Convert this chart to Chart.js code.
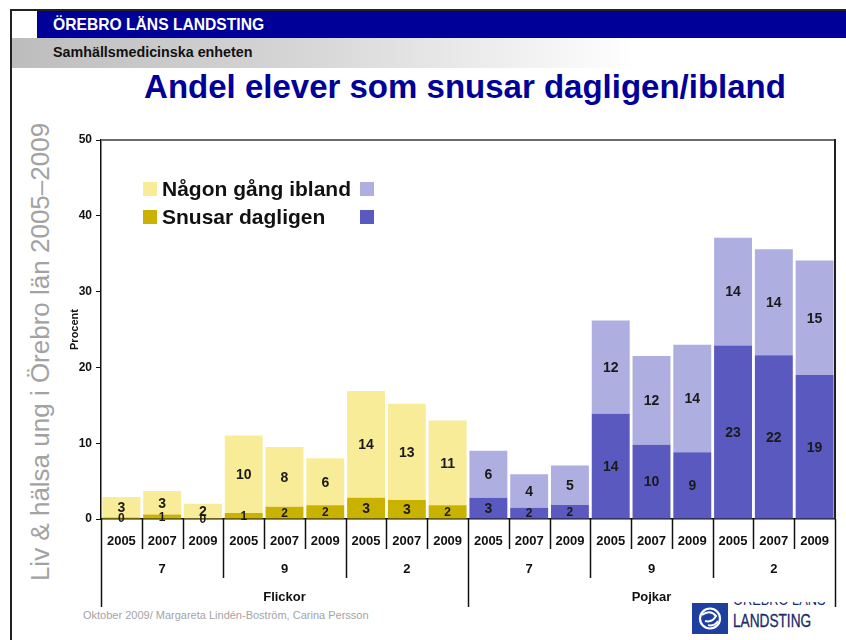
<!DOCTYPE html>
<html>
<head>
<meta charset="utf-8">
<script src="https://cdn.jsdelivr.net/npm/chart.js@4.4.1/dist/chart.umd.min.js"></script>
<style>
  html, body { margin: 0; padding: 0; background: #fff; }
  body { width: 846px; height: 640px; position: relative; overflow: hidden; font-family: Arial, "Liberation Sans", sans-serif; }
  #frameTop { position: absolute; left: 10px; top: 9px; width: 836px; height: 2px; background: #222; }
  #frameLeft { position: absolute; left: 10px; top: 9px; width: 2px; height: 631px; background: #222; }
  #blue { position: absolute; left: 37px; top: 11px; width: 809px; height: 27px; background: #000099; }
  #blue span { position: absolute; left: 16px; top: 4px; color: #fff; font-weight: bold; font-size: 17px;
               transform: scaleX(0.92); transform-origin: left center; white-space: nowrap; }
  #gray { position: absolute; left: 12px; top: 38px; width: 834px; height: 30px;
          background: linear-gradient(to right, #bdbdbd 0%, #d6d6d6 35%, #ffffff 75%); }
  #gray span { position: absolute; left: 41px; top: 6px; color: #111; font-weight: bold; font-size: 14.3px; white-space: nowrap; }
  #title { position: absolute; left: 0; width: 930px; top: 68px; text-align: center; color: #000099;
           font-weight: bold; font-size: 33px; }
  #side { position: absolute; left: 40px; top: 352px; transform: translate(-50%, -50%) rotate(-90deg);
          white-space: nowrap; color: #a2a2a2; font-size: 26px; }
  #foot { position: absolute; left: 83px; top: 609px; color: #a4a4a4; font-size: 11px; }
  #logo { position: absolute; left: 692px; top: 601px; width: 150px; height: 36px; }
  #logo .sq { position: absolute; left: 0; top: 2px; width: 36px; height: 31px; background: #1f3f9f; }
  #logo .cut { position: absolute; left: 41px; top: 1px; height: 5px; overflow: hidden; width: 100px; }
  #logo .cut span { position: relative; top: -11px; font-size: 16px; color: #1a2a6a; white-space: nowrap;
                    display: inline-block; transform: scaleX(0.8); transform-origin: left center; }
  #logo .land { position: absolute; left: 41px; top: 10px; font-size: 17.5px; color: #1a2a6a; white-space: nowrap;
                transform: scaleX(0.78); transform-origin: left center; -webkit-text-stroke: 0.3px #1a2a6a; }
  #chart { position: absolute; left: 0; top: 0; }
</style>
</head>
<body>
<div id="frameTop"></div>
<div id="frameLeft"></div>
<div id="blue"><span>ÖREBRO LÄNS LANDSTING</span></div>
<div id="gray"><span>Samhällsmedicinska enheten</span></div>
<div id="title">Andel elever som snusar dagligen/ibland</div>
<div id="side">Liv &amp; hälsa ung i Örebro län 2005–2009</div>
<div id="foot">Oktober 2009/ Margareta Lindén-Boström, Carina Persson</div>
<div id="logo">
  <div class="sq">
    <svg width="36" height="31" viewBox="0 0 36 31">
      <circle cx="18" cy="15.5" r="10" fill="none" stroke="#fff" stroke-width="2.2"/>
      <path d="M10 12 Q18 6 24 13 Q20 20 13 18" fill="none" stroke="#fff" stroke-width="2"/>
      <path d="M16 22 Q22 24 26 18" fill="none" stroke="#fff" stroke-width="1.8"/>
    </svg>
  </div>
  <div class="cut"><span>ÖREBRO LÄNS</span></div>
  <div class="land">LANDSTING</div>
</div>
<canvas id="chart" width="846" height="640"></canvas>
<script>
// data
const years = ['2005', '2007', '2009', '2005', '2007', '2009', '2005', '2007', '2009',
               '2005', '2007', '2009', '2005', '2007', '2009', '2005', '2007', '2009'];
const grades = ['7', '9', '2', '7', '9', '2'];
const genders = ['Flickor', 'Pojkar'];
const daily = [0.2, 0.6, 0.1, 0.8, 1.6, 1.8, 2.8, 2.5, 1.8,
               2.8, 1.5, 1.85, 13.9, 9.8, 8.8, 22.9, 21.6, 19.0];
const ibland = [2.7, 3.1, 1.9, 10.2, 7.9, 6.2, 14.1, 12.7, 11.2,
                6.2, 4.4, 5.2, 12.3, 11.7, 14.2, 14.2, 14.0, 15.1];
const yTicks = [0, 10, 20, 30, 40, 50];
const seriesNames = ['Snusar dagligen', 'Någon gång ibland'];

const girlDark = '#c9b300', girlLight = '#f8ec98';
const boyDark = '#5a59c0', boyLight = '#afaee1';
const isGirl = i => i < 9;

const FONT = 'Arial, "Liberation Sans", sans-serif';

// value labels inside each segment
const segmentLabels = {
  id: 'segmentLabels',
  afterDatasetsDraw(chart) {
    const ctx = chart.ctx;
    ctx.save();
    ctx.fillStyle = '#1a1a1a';
    ctx.textAlign = 'center';
    ctx.textBaseline = 'middle';
    chart.data.datasets.forEach((ds, di) => {
      chart.getDatasetMeta(di).data.forEach((el, i) => {
        const h = Math.abs(el.base - el.y);
        ctx.font = 'bold ' + (h < 14 ? 12 : 14) + 'px ' + FONT;
        ctx.fillText(String(Math.round(ds.data[i])), el.x, (el.y + el.base) / 2 + 1);
      });
    });
    ctx.restore();
  }
};

// frame, multi-level category axis, legend, axis title
const decorations = {
  id: 'decorations',
  afterDraw(chart) {
    const ctx = chart.ctx;
    const a = chart.chartArea;
    const x = chart.scales.x;
    const n = years.length;
    const half = (x.getPixelForValue(1) - x.getPixelForValue(0)) / 2;
    const edge = i => i === 0 ? a.left : (i === n ? a.right : x.getPixelForValue(i) - half);
    ctx.save();

    // top and right frame
    ctx.strokeStyle = '#6a6a6a';
    ctx.lineWidth = 2;
    ctx.beginPath();
    ctx.moveTo(a.left, a.top); ctx.lineTo(a.right, a.top);
    ctx.stroke();
    ctx.strokeStyle = '#222';
    ctx.beginPath();
    ctx.moveTo(a.right, a.top - 1); ctx.lineTo(a.right, a.bottom);
    ctx.stroke();

    // dividers
    ctx.strokeStyle = '#111';
    ctx.lineWidth = 1.5;
    for (let i = 0; i <= n; i++) {
      let len = 30;
      if (i % 3 === 0) len = 59;
      if (i % 9 === 0) len = 88;
      const px = Math.round(edge(i)) + 0.5;
      ctx.beginPath();
      ctx.moveTo(px, a.bottom);
      ctx.lineTo(px, a.bottom + len);
      ctx.stroke();
    }

    // labels
    ctx.fillStyle = '#111';
    ctx.textAlign = 'center';
    ctx.textBaseline = 'middle';
    ctx.font = 'bold 13px ' + FONT;
    years.forEach((y, i) => ctx.fillText(y, x.getPixelForValue(i), a.bottom + 22));
    grades.forEach((g, k) => ctx.fillText(g, (edge(k * 3) + edge(k * 3 + 3)) / 2, a.bottom + 50));
    genders.forEach((g, k) => ctx.fillText(g, (edge(k * 9) + edge(k * 9 + 9)) / 2, a.bottom + 78));

    // axis title
    ctx.save();
    ctx.translate(75, (a.top + a.bottom) / 2);
    ctx.rotate(-Math.PI / 2);
    ctx.font = 'bold 11px ' + FONT;
    ctx.fillText('Procent', 0, 0);
    ctx.restore();

    // legend
    const rows = [
      { name: seriesNames[1], c1: girlLight, c2: boyLight, y: 189 },
      { name: seriesNames[0], c1: girlDark, c2: boyDark, y: 217 }
    ];
    ctx.textAlign = 'left';
    ctx.font = 'bold 21px ' + FONT;
    rows.forEach(r => {
      ctx.fillStyle = r.c1;
      ctx.fillRect(143, r.y - 7, 14, 14);
      ctx.fillStyle = r.c2;
      ctx.fillRect(360, r.y - 7, 14, 14);
      ctx.fillStyle = '#111';
      ctx.fillText(r.name, 162, r.y + 1);
    });
    ctx.restore();
  }
};

new Chart(document.getElementById('chart'), {
  type: 'bar',
  data: {
    labels: years,
    datasets: [
      {
        label: seriesNames[0],
        data: daily,
        backgroundColor: years.map((_, i) => isGirl(i) ? girlDark : boyDark),
        barPercentage: 0.93,
        categoryPercentage: 1
      },
      {
        label: seriesNames[1],
        data: ibland,
        backgroundColor: years.map((_, i) => isGirl(i) ? girlLight : boyLight),
        barPercentage: 0.93,
        categoryPercentage: 1
      }
    ]
  },
  options: {
    responsive: false,
    animation: false,
    devicePixelRatio: 1,
    layout: { padding: { left: 60, right: 11, top: 140, bottom: 121 } },
    plugins: { legend: { display: false }, tooltip: { enabled: false } },
    scales: {
      x: {
        stacked: true,
        ticks: { display: false },
        grid: { display: false },
        border: { color: '#111', width: 1.5 },
        afterFit(s) { s.height = 0; }
      },
      y: {
        stacked: true,
        min: 0,
        max: 50,
        afterBuildTicks(s) { s.ticks = yTicks.map(v => ({ value: v })); },
        ticks: { color: '#111', font: { family: FONT, size: 12, weight: 'bold' }, padding: 4 },
        grid: { drawOnChartArea: false, tickLength: 5, color: '#111' },
        border: { color: '#111', width: 1.5 },
        afterFit(s) { s.width = 41; }
      }
    }
  },
  plugins: [segmentLabels, decorations]
});
</script>
</body>
</html>
